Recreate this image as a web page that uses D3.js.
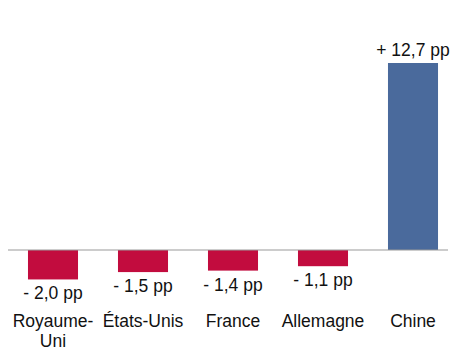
<!DOCTYPE html>
<html><head><meta charset="utf-8">
<script src="https://cdn.jsdelivr.net/npm/d3@7"></script>
<style>body{margin:0;background:#fff}svg{display:block}</style>
</head><body>
<script>
const categories = ["Royaume-Uni", "États-Unis", "France", "Allemagne", "Chine"];
const categoryLines = [["Royaume-", "Uni"], ["États-Unis"], ["France"], ["Allemagne"], ["Chine"]];
const values = [-2.0, -1.5, -1.4, -1.1, 12.7];
const valueLabels = ["- 2,0 pp", "- 1,5 pp", "- 1,4 pp", "- 1,1 pp", "+ 12,7 pp"];

const W = 453, H = 347;
const svg = d3.select("body").append("svg").attr("width", W).attr("height", H);
const x = d3.scaleBand().domain(categories).range([8, 458]).paddingInner(0.444).paddingOuter(0.222);
const y = d3.scaleLinear().domain([0, 12.7]).range([250, 63]);
const font = "Liberation Sans, Arial, sans-serif";
const fs = 17.5;

svg.selectAll("rect.bar").data(values).enter().append("rect")
  .attr("x", (d, i) => x(categories[i]))
  .attr("width", x.bandwidth())
  .attr("y", d => y(Math.max(0, d)))
  .attr("height", d => Math.abs(y(d) - y(0)))
  .attr("fill", d => d < 0 ? "#C20C3E" : "#4A6A9C");

svg.append("line").attr("x1", 8).attr("x2", 448).attr("y1", y(0)).attr("y2", y(0))
  .attr("stroke", "#999").attr("stroke-width", 1);

svg.selectAll("text.val").data(values).enter().append("text")
  .attr("x", (d, i) => x(categories[i]) + x.bandwidth() / 2)
  .attr("y", d => d < 0 ? y(d) + 20 : y(d) - 7)
  .attr("text-anchor", "middle").attr("font-family", font).attr("font-size", fs).attr("fill", "#111")
  .text((d, i) => valueLabels[i]);

categories.forEach((c, i) => {
  const t = svg.append("text").attr("text-anchor", "middle").attr("font-family", font)
    .attr("font-size", fs).attr("fill", "#111");
  categoryLines[i].forEach((l, j) => {
    t.append("tspan").attr("x", x(c) + x.bandwidth() / 2).attr("y", 327 + j * 20).text(l);
  });
});
</script>
</body></html>
